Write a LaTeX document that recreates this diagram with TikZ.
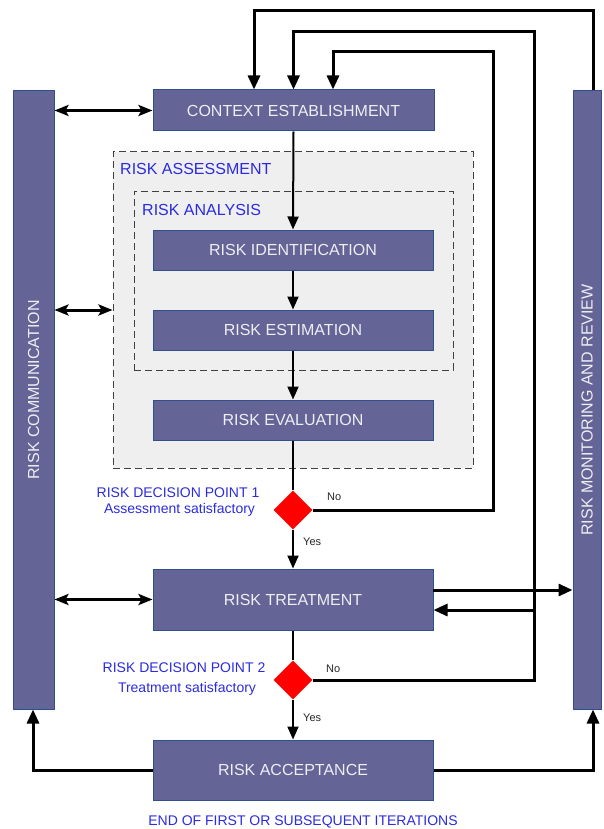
\documentclass[tikz,border=0pt]{standalone}
\usepackage{fontspec}
\setmainfont{Liberation Sans}
\usetikzlibrary{arrows.meta,shapes.geometric}
\definecolor{boxfill}{HTML}{646496}
\definecolor{boxline}{HTML}{2F4F8F}
\definecolor{boxtext}{HTML}{EEEEF4}
\definecolor{lbl}{HTML}{2B2BE0}
\definecolor{panel}{HTML}{EFEFEF}
\begin{document}
\begin{tikzpicture}[x=1pt,y=-1pt,
  procbox/.style={draw=boxline, line width=1pt, fill=boxfill, text=boxtext,
    font=\fontsize{16}{18}\selectfont, inner sep=0pt, minimum width=280pt},
  barbox/.style={draw=boxline, line width=1pt, fill=boxfill, inner sep=0pt},
  bartext/.style={text=boxtext, font=\fontsize{16}{18}\selectfont, rotate=90, inner sep=0pt},
  panelbox/.style={draw=black!75, dash pattern=on 7pt off 4pt, line width=1pt, fill=panel, inner sep=0pt},
  paneltext/.style={text=lbl, font=\fontsize{16}{18}\selectfont, anchor=base west, inner sep=0pt},
  decision/.style={diamond, fill=red, draw=none, minimum width=39pt, minimum height=39pt, inner sep=0pt},
  dectext/.style={text=lbl, font=\fontsize{14}{16}\selectfont, anchor=base, inner sep=0pt},
  small/.style={font=\fontsize{11}{13}\selectfont, text=black!85, anchor=base west, inner sep=0pt},
  flow/.style={line width=2pt, -{Triangle[length=13pt,width=11pt]}},
  flowline/.style={line width=2pt},
  loopline/.style={line width=3pt, -{Triangle[length=14pt,width=12pt]}, line join=miter},
  both/.style={line width=3pt, {Stealth[length=14pt,width=11pt,inset=3pt]}-{Stealth[length=14pt,width=11pt,inset=3pt]}}
]
\useasboundingbox (0,0) rectangle (604,829);

% panels
\node[panelbox, minimum width=360pt, minimum height=316pt] (assess) at (293,310) {};
\node[panelbox, minimum width=319pt, minimum height=179pt] (analysis) at (293.5,280.5) {};
\node[paneltext] (assesslbl) at (120,175) {RISK ASSESSMENT};
\node[paneltext] (analysislbl) at (142,215) {RISK ANALYSIS};

% bars
\node[barbox, minimum width=41pt, minimum height=618pt] (lbar) at (33.5,400) {};
\node[bartext] (lbartext) at (33.5,390) {RISK COMMUNICATION};
\node[barbox, minimum width=28pt, minimum height=618pt] (rbar) at (587,400) {};
\node[bartext] (rbartext) at (587,410) {RISK MONITORING AND REVIEW};

% process boxes
\node[procbox, minimum width=281pt, minimum height=41pt] (ctx) at (293.5,110.5) {CONTEXT ESTABLISHMENT};
\node[procbox, minimum height=40pt] (ident) at (293,250) {RISK IDENTIFICATION};
\node[procbox, minimum height=40pt] (est) at (293,330) {RISK ESTIMATION};
\node[procbox, minimum height=40pt] (eval) at (293,420) {RISK EVALUATION};
\node[procbox, minimum height=61pt] (treat) at (293,599.5) {RISK TREATMENT};
\node[procbox, minimum height=60pt] (accept) at (293,770) {RISK ACCEPTANCE};

% decisions
\node[decision] (d1) at (293,510) {};
\node[decision] (d2) at (293,680) {};
\node[dectext] (d1a) at (178,497) {RISK DECISION POINT 1};
\node[dectext] (d1b) at (179.5,513) {Assessment satisfactory};
\node[dectext] (d2a) at (184,672) {RISK DECISION POINT 2};
\node[dectext] (d2b) at (187,692) {Treatment satisfactory};
\node[small] (no1) at (327,500) {No};
\node[small] (yes1) at (303,545) {Yes};
\node[small] (no2) at (326,672) {No};
\node[small] (yes2) at (303,721) {Yes};

% bottom text
\node[dectext] (endtxt) at (303,825) {END OF FIRST OR SUBSEQUENT ITERATIONS};

% coordinates
\coordinate (r1) at (493,52);
\coordinate (a1) at (333,0);
\coordinate (r2) at (534,32);
\coordinate (r3) at (254,11);
\coordinate (x3) at (593,0);
\coordinate (fb) at (534,610);
\coordinate (tr) at (433,590);
\coordinate (lx) at (33,0);

% main flow
\draw[flow] (ctx.south) -- (ident.north);
\draw[flow] (ident.south) -- (est.north);
\draw[flow] (est.south) -- (eval.north);
\draw[flowline] (eval.south) -- (d1.north);
\draw[flow] (d1.south) -- (treat.north);
\draw[flowline] (treat.south) -- (d2.north);
\draw[flow] (d2.south) -- (accept.north);

% loops
\draw[loopline] (d1.east) -| (r1) -| (ctx.north -| a1);
\draw[loopline] (d2.east) -| (r2) -| (ctx.north);
\draw[loopline] (rbar.north -| x3) |- (r3) -- (ctx.north -| r3);
\draw[loopline] (fb) -- (fb -| treat.east);
\draw[loopline] (tr) -- (tr -| rbar.west);
\draw[loopline] (accept.west) -| (lbar.south -| lx);
\draw[loopline] (accept.east) -| (rbar.south -| x3);

% communication arrows
\draw[both] (lbar.east |- ctx.west) -- (ctx.west);
\draw[both] (lbar.east |- assess.west) -- (assess.west);
\draw[both] (lbar.east |- treat.west) -- (treat.west);
\end{tikzpicture}
\end{document}
